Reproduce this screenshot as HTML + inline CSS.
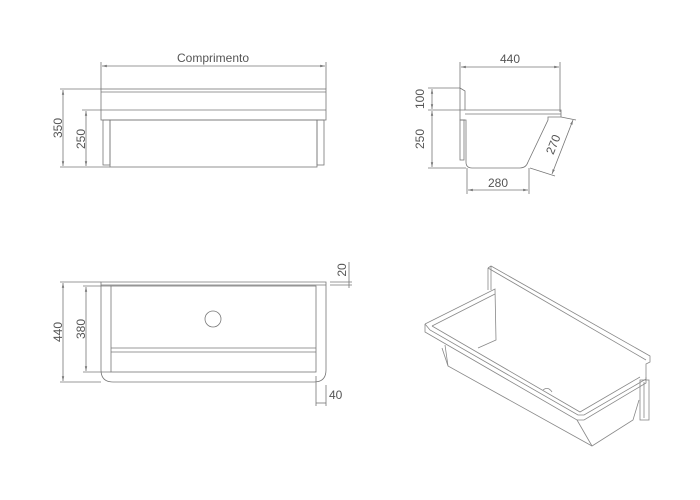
<!DOCTYPE html>
<html><head><style>
body{margin:0;background:#fff}
svg{display:block}
text{font-family:"Liberation Sans",sans-serif;font-size:12px;fill:#555;font-stretch:condensed}
</style></head><body>
<svg width="700" height="500" viewBox="0 0 700 500" fill="none" stroke="#777" stroke-width="0.8">
<defs><marker id="a" markerWidth="6" markerHeight="6" refX="6" refY="3" orient="auto-start-reverse"><path d="M0,1.5L6,3L0,4.5z" fill="#777" stroke="none"/></marker></defs>
<!-- top left view -->
<line x1="101" y1="62" x2="101" y2="89"/><line x1="326" y1="62" x2="326" y2="89"/>
<line x1="102" y1="66" x2="325" y2="66" marker-start="url(#a)" marker-end="url(#a)"/>
<text x="213" y="62" text-anchor="middle" stroke="none">Comprimento</text>
<rect x="101" y="89" width="225" height="31"/>
<line x1="101" y1="92" x2="326" y2="92"/><line x1="101" y1="110" x2="326" y2="110"/>
<rect x="110" y="120" width="207" height="47"/>
<rect x="103" y="120" width="7" height="45"/><rect x="317" y="120" width="7" height="45"/>
<line x1="60" y1="89" x2="101" y2="89"/><line x1="82" y1="110" x2="101" y2="110"/><line x1="60" y1="167" x2="110" y2="167"/>
<line x1="63" y1="90" x2="63" y2="166" marker-start="url(#a)" marker-end="url(#a)"/>
<line x1="86" y1="111" x2="86" y2="166" marker-start="url(#a)" marker-end="url(#a)"/>
<text transform="translate(62,128) rotate(-90)" text-anchor="middle" stroke="none">350</text>
<text transform="translate(85,139) rotate(-90)" text-anchor="middle" stroke="none">250</text>
<!-- top right view -->
<line x1="460" y1="62" x2="460" y2="88"/><line x1="560" y1="62" x2="560" y2="112"/>
<line x1="461" y1="67" x2="559" y2="67" marker-start="url(#a)" marker-end="url(#a)"/>
<text x="510" y="63" text-anchor="middle" stroke="none">440</text>
<path d="M460,88 L465,91 L465,110 L561,110 L561,117 L548,117 L548,120 L528,162 Q526,168 520,168 L472,168 Q466,168 466,162 L466,120 L460,120 Z"/>
<line x1="465" y1="114" x2="561" y2="114"/>
<line x1="460" y1="120" x2="465" y2="120"/><rect x="460" y="120" width="4" height="40"/>
<line x1="428" y1="88" x2="460" y2="88"/><line x1="428" y1="110" x2="465" y2="110"/><line x1="428" y1="168" x2="466" y2="168"/>
<line x1="432" y1="89" x2="432" y2="109" marker-start="url(#a)" marker-end="url(#a)"/>
<line x1="432" y1="111" x2="432" y2="167" marker-start="url(#a)" marker-end="url(#a)"/>
<text transform="translate(424,99) rotate(-90)" text-anchor="middle" stroke="none">100</text>
<text transform="translate(424,139) rotate(-90)" text-anchor="middle" stroke="none">250</text>
<line x1="467" y1="168" x2="467" y2="194"/><line x1="529" y1="168" x2="529" y2="194"/>
<line x1="468" y1="190" x2="528" y2="190" marker-start="url(#a)" marker-end="url(#a)"/>
<text x="498" y="187" text-anchor="middle" stroke="none">280</text>
<line x1="561" y1="117" x2="576" y2="120"/><line x1="530" y1="168" x2="555" y2="176"/>
<line x1="573" y1="120" x2="552" y2="174" marker-start="url(#a)" marker-end="url(#a)"/>
<text transform="translate(557,146) rotate(-68)" text-anchor="middle" stroke="none">270</text>
<!-- bottom left view -->
<path d="M101,282 L326,282 L326,370 Q326,382 314,382 L113,382 Q101,382 101,370 Z"/>
<line x1="101" y1="285" x2="326" y2="285"/>
<rect x="111" y="286" width="205" height="86"/>
<line x1="111" y1="348" x2="316" y2="348"/><line x1="111" y1="352" x2="316" y2="352"/>
<circle cx="213" cy="319" r="8"/>
<line x1="60" y1="282" x2="101" y2="282"/><line x1="60" y1="382" x2="101" y2="382"/>
<line x1="83" y1="286" x2="111" y2="286"/><line x1="83" y1="372" x2="111" y2="372"/>
<line x1="63" y1="283" x2="63" y2="381" marker-start="url(#a)" marker-end="url(#a)"/>
<line x1="86" y1="287" x2="86" y2="371" marker-start="url(#a)" marker-end="url(#a)"/>
<text transform="translate(62,332) rotate(-90)" text-anchor="middle" stroke="none">440</text>
<text transform="translate(85,329) rotate(-90)" text-anchor="middle" stroke="none">380</text>
<line x1="330" y1="282" x2="352" y2="282"/><line x1="330" y1="285" x2="352" y2="285"/>
<line x1="349" y1="262" x2="349" y2="288"/>
<text transform="translate(346,270) rotate(-90)" text-anchor="middle" stroke="none">20</text>
<line x1="316" y1="376" x2="316" y2="406"/><line x1="326" y1="385" x2="326" y2="406"/>
<line x1="316" y1="403" x2="326" y2="403"/>
<text x="329" y="399" stroke="none">40</text>
<!-- iso view -->
<g stroke="#888">
<path d="M488,268 L491,266 L650,356 L650,362 L646,364 L646,380"/>
<line x1="488" y1="268" x2="646" y2="360"/>
<line x1="491" y1="266" x2="491" y2="290"/><line x1="488" y1="268" x2="488" y2="290"/>
<path d="M425,324 L495,289 L496,340 L478,348"/>
<path d="M425,324 L425,332 L577,420 L584,420 L646,383 L646,377"/>
<path d="M425,324 L430,330 L578,415 L584,415 L646,379"/>
<path d="M432,326 L495,294"/><path d="M432,326 L580,412 L640,377"/>
<path d="M442,348 L448,366 L592,446 L633,420 L639,400"/>
<line x1="577" y1="420" x2="592" y2="446"/>
<line x1="448" y1="366" x2="445" y2="345"/>
<rect x="640" y="380" width="9" height="40"/><line x1="644" y1="382" x2="644" y2="418"/>
<path d="M543,390 Q548,386 552,392"/>
</g>
</svg>
</body></html>
